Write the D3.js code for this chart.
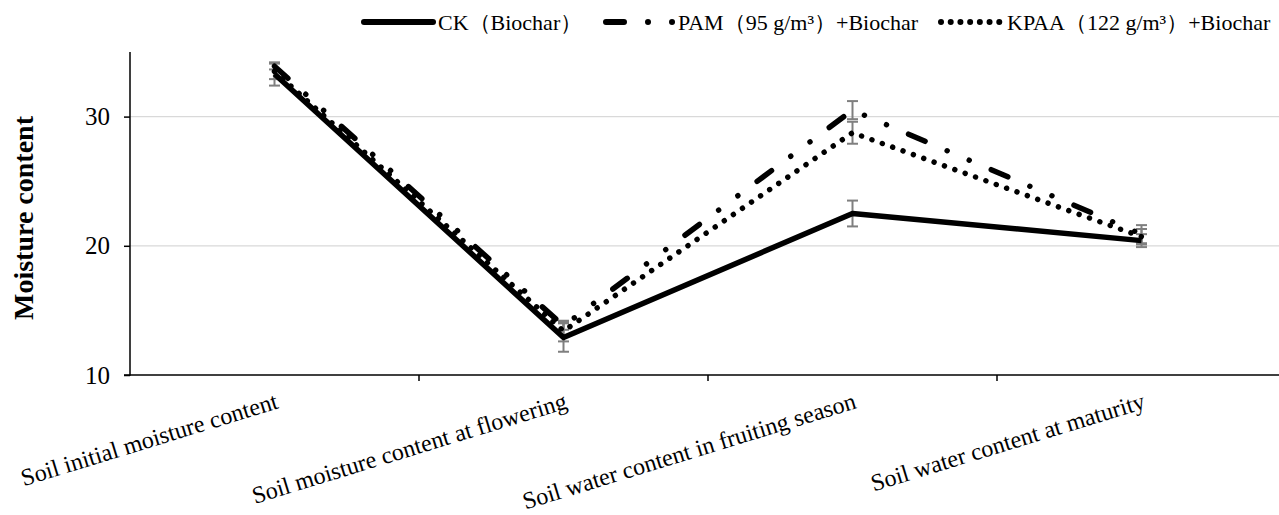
<!DOCTYPE html>
<html>
<head>
<meta charset="utf-8">
<script src="https://cdn.jsdelivr.net/npm/d3@7"></script>
<style>
  body { margin: 0; background: #fff; }
  svg text { font-family: "Liberation Serif", "Times New Roman", "DejaVu Serif", serif; }
</style>
</head>
<body>
<svg id="chart" width="1279" height="515"></svg>
<script>
let categories = ["Soil initial moisture content", "Soil moisture content at flowering",
                  "Soil water content in fruiting season", "Soil water content at maturity"];
let seriesNames = ["CK\uFF08Biochar\uFF09", "PAM\uFF0895 g/m\u00B3\uFF09+Biochar", "KPAA\uFF08122 g/m\u00B3\uFF09+Biochar"];
let ckValues = [33.3, 12.9, 22.5, 20.4];
let pamValues = [33.9, 13.8, 30.5, 20.9];
let kpaaValues = [33.5, 13.4, 28.75, 20.7];
let ckErrors = [0.9, 1.1, 1.0, 0.5];
let pamErrors = [0.25, 0.3, 0.7, 0.7];
let kpaaErrors = [0.6, 0.8, 0.85, 0.6];
let yTicks = [10, 20, 30];

const SERIF = "'Liberation Serif', 'Times New Roman', 'DejaVu Serif', serif";

let svg = d3.select("#chart");
let plotLeft = 130, plotRight = 1286, plotTop = 52, plotBottom = 375;

let x = d3.scaleBand().domain(categories).range([plotLeft, plotRight]).padding(0);
let y = d3.scaleLinear().domain([10, 35]).range([plotBottom, plotTop]);

// gridlines
svg.append("g").selectAll("line").data(yTicks.filter(d => d > 10)).enter().append("line")
    .attr("x1", plotLeft).attr("x2", 1279)
    .attr("y1", d => y(d)).attr("y2", d => y(d))
    .attr("stroke", "#d9d9d9").attr("stroke-width", 1.3);

// y axis
let yAxis = svg.append("g").attr("transform", `translate(${plotLeft},0)`)
    .call(d3.axisLeft(y).tickValues(yTicks).tickSize(6).tickPadding(14));
yAxis.attr("font-family", SERIF);
yAxis.select(".domain").attr("stroke", "#000").attr("stroke-width", 1.5).attr("d", `M-6,${plotBottom}H0V${plotTop}`);
yAxis.selectAll(".tick line").attr("stroke", "#000").attr("stroke-width", 1.5);
yAxis.selectAll(".tick text").style("font-size", "25px").attr("fill", "#000")
    .style("font-family", SERIF);

// x axis
let xAxisG = svg.append("g");
xAxisG.append("line").attr("x1", plotLeft).attr("x2", 1279).attr("y1", plotBottom).attr("y2", plotBottom)
    .attr("stroke", "#000").attr("stroke-width", 1.5);
xAxisG.selectAll("line.tk").data(categories.slice(1)).enter().append("line")
    .attr("class", "tk")
    .attr("x1", d => x(d)).attr("x2", d => x(d))
    .attr("y1", plotBottom).attr("y2", plotBottom + 6)
    .attr("stroke", "#000").attr("stroke-width", 1.5);
xAxisG.selectAll("text").data(categories).enter().append("text")
    .attr("transform", d => `translate(${x(d) + x.bandwidth() / 2 + 5},${408}) rotate(-17)`)
    .attr("text-anchor", "end")
    .style("font-family", SERIF)
    .style("font-size", "24px")
    .text(d => d);

// y title
svg.append("text")
    .attr("transform", `translate(33,218) rotate(-90)`)
    .attr("text-anchor", "middle")
    .style("font-family", SERIF)
    .style("font-size", "28px").style("font-weight", "bold")
    .text("Moisture content");

let series = [
    {name: seriesNames[0], values: ckValues, errors: ckErrors, dash: null, legendDash: null},
    {name: seriesNames[1], values: pamValues, errors: pamErrors,
     dash: "18 24 0.01 24 0.01 24", legendDash: "18 24 0.01 24 0.01 24"},
    {name: seriesNames[2], values: kpaaValues, errors: kpaaErrors,
     dash: "0.01 11", legendDash: "0.01 9.7"}
];

let cx = (d, i) => x(categories[i]) + x.bandwidth() / 2;

// error bars
series.forEach(s => {
    let g = svg.append("g").attr("stroke", "#7f7f7f").attr("stroke-width", 2);
    s.values.forEach((v, i) => {
        let px = cx(v, i);
        let e = s.errors[i];
        g.append("line").attr("x1", px).attr("x2", px).attr("y1", y(v - e)).attr("y2", y(v + e));
        g.append("line").attr("x1", px - 5.5).attr("x2", px + 5.5).attr("y1", y(v - e)).attr("y2", y(v - e));
        g.append("line").attr("x1", px - 5.5).attr("x2", px + 5.5).attr("y1", y(v + e)).attr("y2", y(v + e));
    });
});

let line = d3.line().x((d, i) => cx(d, i)).y(d => y(d));

series.slice().reverse().forEach(s => {
    svg.append("path")
        .datum(s.values)
        .attr("d", line)
        .attr("fill", "none")
        .attr("stroke", "#000")
        .attr("stroke-width", 5.5)
        .attr("stroke-linecap", s.dash ? "round" : "butt")
        .attr("stroke-linejoin", "round")
        .attr("stroke-dasharray", s.dash);
});

// legend
let legendSym = [[362, 435], [606, 676], [941, 1002]];
let legendText = [438, 678, 1007];
let legend = svg.append("g");
series.forEach((s, i) => {
    legend.append("line")
        .attr("x1", legendSym[i][0] + (i === 0 ? 2 : 0)).attr("x2", legendSym[i][1] - (i === 0 ? 2 : 0))
        .attr("y1", 22).attr("y2", 22)
        .attr("stroke", "#000").attr("stroke-width", 6)
        .attr("stroke-linecap", "round")
        .attr("stroke-dasharray", s.legendDash);
    legend.append("text")
        .attr("x", legendText[i]).attr("y", 29.5)
        .style("font-family", SERIF)
        .style("font-size", "22px")
        .text(s.name);
});
</script>
</body>
</html>
